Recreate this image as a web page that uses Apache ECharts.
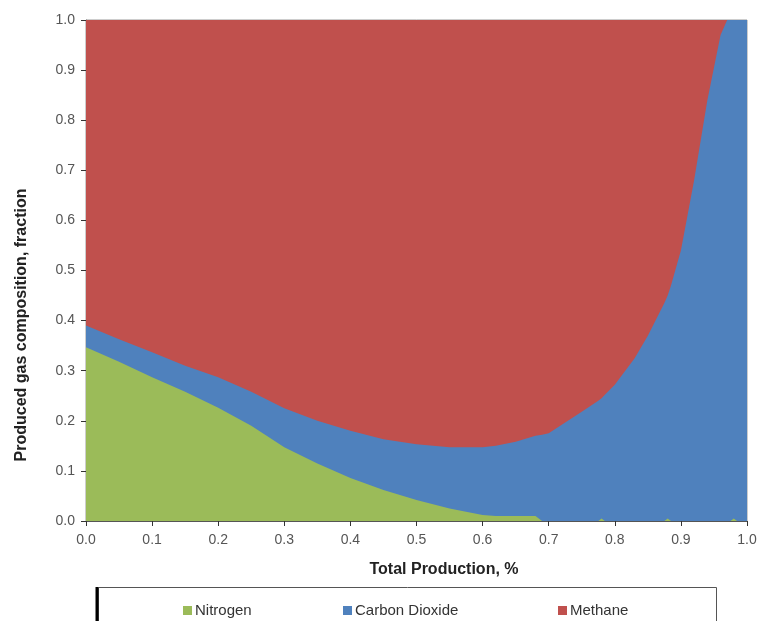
<!DOCTYPE html>
<html>
<head>
<meta charset="utf-8">
<script src="https://cdn.jsdelivr.net/npm/echarts@6/dist/echarts.min.js"></script>
<style>html,body{margin:0;padding:0;background:#fff;}#c{width:760px;height:621px;}</style>
</head>
<body>
<div id="c"></div>
<script>
const xValues = [0,0.05,0.1,0.15,0.2,0.25,0.3,0.35,0.4,0.45,0.5,0.55,0.6,0.62,0.65,0.68,0.69,0.7,0.75,0.775,0.78,0.785,0.8,0.83,0.85,0.875,0.88,0.885,0.9,0.92,0.94,0.96,0.97,0.975,0.98,0.985,1.0];
const nitrogen = [0.347,0.318,0.287,0.258,0.226,0.19,0.147,0.115,0.086,0.062,0.042,0.025,0.012,0.01,0.01,0.01,0,0,0,0,0.005,0,0,0,0,0,0.005,0,0,0,0,0,0,0,0.005,0,0];
const carbonDioxide = [0.043,0.045,0.05,0.052,0.061,0.068,0.078,0.085,0.094,0.101,0.111,0.122,0.135,0.14,0.148,0.16,0.172,0.175,0.218,0.24,0.24,0.252,0.272,0.325,0.37,0.435,0.445,0.47,0.54,0.68,0.84,0.97,1.0,1.0,0.995,1.0,1.0];
const methane = [0.61,0.637,0.663,0.69,0.713,0.742,0.775,0.8,0.82,0.837,0.847,0.853,0.853,0.85,0.842,0.83,0.828,0.825,0.782,0.76,0.755,0.748,0.728,0.675,0.63,0.565,0.55,0.53,0.46,0.32,0.16,0.03,0,0,0,0,0];
const seriesNames = ['Nitrogen','Carbon Dioxide','Methane'];
const seriesColors = ['#9BBB59','#4F81BD','#C0504D'];
const seriesValues = [nitrogen, carbonDioxide, methane];

const chart = echarts.init(document.getElementById('c'), null, {renderer:'canvas'});
const font = '"Liberation Sans", Arial, sans-serif';

// cumulative (stacked) tops, built from the component arrays
const cumulative = [];
let running = xValues.map(() => 0);
seriesValues.forEach(vals => {
  running = running.map((r, j) => r + vals[j]);
  cumulative.push(running.slice());
});

const series = seriesNames.map((name, i) => ({
  name: name,
  type: 'line',
  symbol: 'none',
  smooth: false,
  z: 10 - i,
  lineStyle: {width: 0},
  areaStyle: {color: seriesColors[i], opacity: 1, origin: 'start'},
  itemStyle: {color: seriesColors[i]},
  data: xValues.map((x, j) => [x, Math.min(1, cumulative[i][j])])
}));

const legendLefts = [178, 338, 553];
const legends = seriesNames.map((name, i) => ({
  data: [{name: name, icon: 'rect'}],
  left: legendLefts[i],
  top: 598,
  itemWidth: 9,
  itemHeight: 9,
  itemGap: 0,
  selectedMode: false,
  textStyle: {fontFamily: font, fontSize: 15, color: '#333', padding: [0,0,0,-2]}
}));

chart.setOption({
  animation: false,
  backgroundColor: '#fff',
  grid: {left: 86, right: 13, top: 20, bottom: 100, show: true, borderColor: '#9a9a9a', borderWidth: 1, backgroundColor: 'transparent'},
  xAxis: {
    type: 'value', min: 0, max: 1, interval: 0.1,
    axisLine: {show: true, onZero: false, lineStyle: {color: '#555', width: 1}},
    axisTick: {show: true, length: 5, inside: false, lineStyle: {color: '#333'}},
    splitLine: {show: false},
    axisLabel: {margin: 12, fontFamily: font, fontSize: 14, color: '#555', formatter: v => v.toFixed(1)}
  },
  yAxis: {
    type: 'value', min: 0, max: 1, interval: 0.1,
    axisLine: {show: true, lineStyle: {color: '#777', width: 1}},
    axisTick: {show: true, length: 5, inside: false, lineStyle: {color: '#333'}},
    splitLine: {show: false},
    axisLabel: {margin: 11, fontFamily: font, fontSize: 14, color: '#555', formatter: v => v.toFixed(1)}
  },
  legend: legends,
  series: series,
  graphic: [
    {type: 'text', x: 444, y: 570, style: {text: 'Total Production, %', fontFamily: font, fontSize: 16, fontWeight: 'bold', fill: '#222', align: 'center', verticalAlign: 'middle'}},
    {type: 'text', x: 22, y: 325, rotation: Math.PI/2, style: {text: 'Produced gas composition, fraction', fontFamily: font, fontSize: 16, fontWeight: 'bold', fill: '#222', align: 'center', verticalAlign: 'middle'}},
    {type: 'rect', shape: {x: 98.5, y: 587.5, width: 618, height: 60}, style: {fill: 'none', stroke: '#555', lineWidth: 1}, z: 10},
    {type: 'line', shape: {x1: 97, y1: 587, x2: 97, y2: 621}, style: {stroke: '#000', lineWidth: 3}, z: 11}
  ]
});
</script>
</body>
</html>
